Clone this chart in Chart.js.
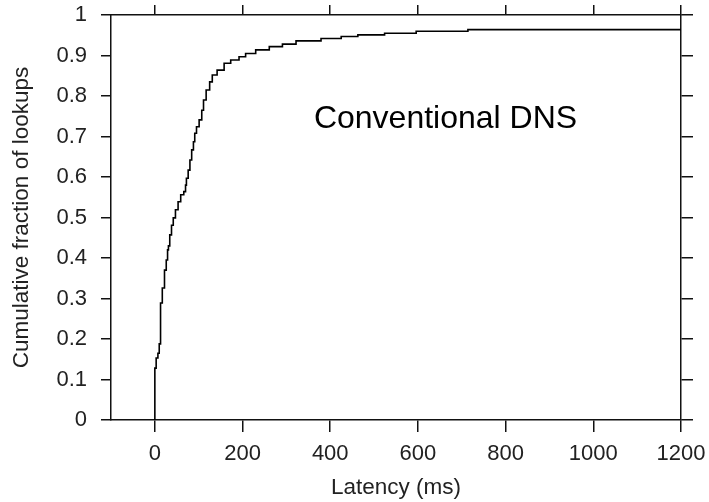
<!DOCTYPE html>
<html>
<head>
<meta charset="utf-8">
<script src="https://cdn.jsdelivr.net/npm/chart.js@4/dist/chart.umd.min.js"></script>
<style>
  html, body { margin: 0; padding: 0; background: #fff; }
  canvas { display: block; }
</style>
</head>
<body>
<canvas id="c" width="709" height="502"></canvas>
<script>
// ---- data ----
const latencyMs = [0, 0, 3, 7, 10, 13, 17, 22, 26, 29, 31, 34, 38, 42, 47, 53, 59, 66, 70, 72,
  76, 80, 84, 88, 91, 95, 101, 107, 111, 117, 125, 131, 142, 158, 173, 192, 207, 230, 261, 291,
  322, 379, 425, 463, 524, 596, 714, 1200];
const cumFraction = [0, 0.128, 0.153, 0.165, 0.188, 0.289, 0.326, 0.37, 0.395, 0.42, 0.43, 0.457, 0.481, 0.499, 0.519, 0.539, 0.556, 0.564, 0.58, 0.597,
  0.617, 0.642, 0.667, 0.687, 0.708, 0.724, 0.741, 0.765, 0.79, 0.815, 0.835, 0.852, 0.864, 0.881, 0.889, 0.897, 0.905, 0.914, 0.922, 0.928,
  0.936, 0.942, 0.947, 0.951, 0.955, 0.96, 0.964, 0.964];
const xTicks = [0, 200, 400, 600, 800, 1000, 1200];
const xTickLabels = ['0', '200', '400', '600', '800', '1000', '1200'];
const yTicks = [0, 0.1, 0.2, 0.3, 0.4, 0.5, 0.6, 0.7, 0.8, 0.9, 1];
const yTickLabels = ['0', '0.1', '0.2', '0.3', '0.4', '0.5', '0.6', '0.7', '0.8', '0.9', '1'];
const xRange = [-100, 1200];
const yRange = [0, 1];
const seriesLabel = 'Conventional DNS';
const xTitle = 'Latency (ms)';
const yTitle = 'Cumulative fraction of lookups';
const annotationAt = { x: 663, y: 0.742 };

const FONT = "'Liberation Sans', Arial, Helvetica, sans-serif";
const TXT = '#222';

const points = latencyMs.map((x, i) => ({ x: x, y: cumFraction[i] }));

function fixedTicks(values) {
  return function (scale) { scale.ticks = values.map(v => ({ value: v })); };
}
function fitTo(prop, size) {
  return function (s) {
    s[prop] = size;
    s.paddingLeft = 0; s.paddingRight = 0; s.paddingTop = 0; s.paddingBottom = 0;
  };
}
function gridOpts(len) {
  return { display: true, drawOnChartArea: false, drawTicks: true, tickLength: len, color: '#111', lineWidth: 1.5 };
}
const borderOpts = { display: true, color: '#111', width: 1.5 };

const annotationPlugin = {
  id: 'annot',
  afterDraw(chart) {
    const ctx = chart.ctx;
    const xs = chart.scales.x, ys = chart.scales.y;
    ctx.save();
    ctx.font = "32px " + FONT;
    ctx.fillStyle = '#000';
    ctx.textAlign = 'center';
    ctx.textBaseline = 'middle';
    ctx.fillText(seriesLabel, xs.getPixelForValue(annotationAt.x), ys.getPixelForValue(annotationAt.y));
    ctx.restore();
  }
};

new Chart(document.getElementById('c'), {
  type: 'line',
  data: {
    datasets: [{
      label: seriesLabel,
      data: points,
      stepped: true,
      borderColor: '#000',
      borderWidth: 1.6,
      pointRadius: 0,
      fill: false,
      xAxisID: 'x',
      yAxisID: 'y'
    }]
  },
  options: {
    responsive: false,
    animation: false,
    devicePixelRatio: 1,
    layout: { padding: 0 },
    plugins: { legend: { display: false }, tooltip: { enabled: false } },
    scales: {
      x: {
        type: 'linear', position: 'bottom', display: true,
        min: xRange[0], max: xRange[1],
        afterBuildTicks: fixedTicks(xTicks),
        afterFit: fitTo('height', 82),
        grid: gridOpts(12),
        border: borderOpts,
        ticks: {
          color: TXT, font: { family: FONT, size: 22 }, padding: 9, maxRotation: 0, autoSkip: false,
          callback: (v) => xTickLabels[xTicks.indexOf(v)]
        },
        title: { display: true, text: xTitle, color: TXT, font: { family: FONT, size: 22.5 }, padding: { top: 0, bottom: 1 } }
      },
      x2: {
        type: 'linear', position: 'top', display: true,
        min: xRange[0], max: xRange[1],
        afterBuildTicks: fixedTicks(xTicks),
        afterFit: fitTo('height', 15),
        grid: gridOpts(10),
        border: borderOpts,
        ticks: { display: false }
      },
      y: {
        type: 'linear', position: 'left', display: true,
        min: yRange[0], max: yRange[1],
        afterBuildTicks: fixedTicks(yTicks),
        afterFit: fitTo('width', 111),
        grid: gridOpts(10),
        border: borderOpts,
        ticks: {
          color: TXT, font: { family: FONT, size: 22 }, padding: 14, autoSkip: false,
          callback: (v) => yTickLabels[yTicks.indexOf(v)]
        },
        title: { display: true, text: yTitle, color: TXT, font: { family: FONT, size: 22.5 }, padding: { top: 8, bottom: 0 } }
      },
      y2: {
        type: 'linear', position: 'right', display: true,
        min: yRange[0], max: yRange[1],
        afterBuildTicks: fixedTicks(yTicks),
        afterFit: fitTo('width', 28),
        grid: gridOpts(12),
        border: borderOpts,
        ticks: { display: false }
      }
    }
  },
  plugins: [annotationPlugin]
});
</script>
</body>
</html>
